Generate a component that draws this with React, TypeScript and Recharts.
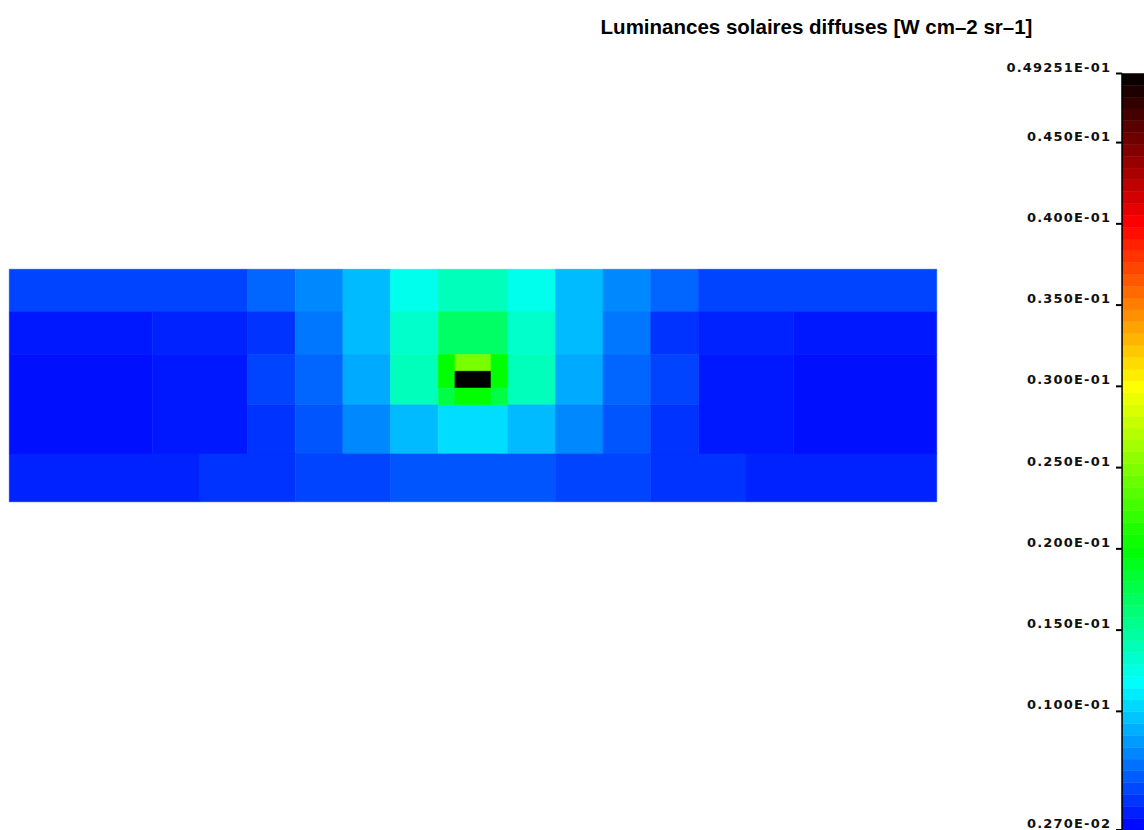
import { ComposedChart, XAxis, YAxis, ReferenceArea } from "recharts";

// diffuse sky radiance map, azimuth (deg) x elevation (deg), values in W cm-2 sr-1
// each row: [azimuth from, azimuth to, value]
const rowTop: [number, number, number][] = [
  [-180, -87.5, 0.0051],
  [-87.5, -69, 0.0063],
  [-69, -50.5, 0.0075],
  [-50.5, -32, 0.0093],
  [-32, -13.5, 0.0123],
  [-13.5, 13.5, 0.0139],
  [13.5, 32, 0.0123],
  [32, 50.5, 0.0093],
  [50.5, 69, 0.0075],
  [69, 87.5, 0.0063],
  [87.5, 180, 0.0051],
];

const rowUpper: [number, number, number][] = [
  [-180, -124.5, 0.00355],
  [-124.5, -87.5, 0.0039],
  [-87.5, -69, 0.0045],
  [-69, -50.5, 0.0069],
  [-50.5, -32, 0.0093],
  [-32, -13.5, 0.0134],
  [-13.5, 13.5, 0.0167],
  [13.5, 32, 0.0134],
  [32, 50.5, 0.0093],
  [50.5, 69, 0.0069],
  [69, 87.5, 0.0045],
  [87.5, 124.5, 0.0039],
  [124.5, 180, 0.00355],
];

// tall cells at both sides, covering the middle and lower rows
const rowSides: [number, number, number][] = [
  [-180, -124.5, 0.00326],
  [-124.5, -87.5, 0.00355],
  [87.5, 124.5, 0.00355],
  [124.5, 180, 0.00326],
];

const rowMiddle: [number, number, number][] = [
  [-87.5, -69, 0.0051],
  [-69, -50.5, 0.0063],
  [-50.5, -32, 0.0087],
  [-32, -13.5, 0.0139],
  [13.5, 32, 0.0139],
  [32, 50.5, 0.0087],
  [50.5, 69, 0.0063],
  [69, 87.5, 0.0051],
];

const rowLower: [number, number, number][] = [
  [-87.5, -69, 0.0045],
  [-69, -50.5, 0.0057],
  [-50.5, -32, 0.0075],
  [-32, -13.5, 0.0093],
  [-13.5, 13.5, 0.0105],
  [13.5, 32, 0.0093],
  [32, 50.5, 0.0075],
  [50.5, 69, 0.0057],
  [69, 87.5, 0.0045],
];

const rowBottom: [number, number, number][] = [
  [-180, -106, 0.0039],
  [-106, -69, 0.0045],
  [-69, -32, 0.0051],
  [-32, 32, 0.0057],
  [32, 69, 0.0051],
  [69, 106, 0.0045],
  [106, 180, 0.0039],
];

// finer cells around the sun: [az from, az to, el from, el to, value]
const sunCells: [number, number, number, number, number][] = [
  [-13.5, -7, -1, 12, 0.02],
  [-13.5, -7, -7.5, -1, 0.0178],
  [-7, 7, 5.5, 12, 0.0247],
  [-7, 7, -1, 5.5, 0.049251],
  [-7, 7, -7.5, -1, 0.02],
  [7, 13.5, -1, 12, 0.02],
  [7, 13.5, -7.5, -1, 0.0178],
];

const colorbarTicks = [0.0027, 0.01, 0.015, 0.02, 0.025, 0.03, 0.035, 0.04, 0.045, 0.049251];
const colorbarLabels = [
  "0.270E-02",
  "0.100E-01",
  "0.150E-01",
  "0.200E-01",
  "0.250E-01",
  "0.300E-01",
  "0.350E-01",
  "0.400E-01",
  "0.450E-01",
  "0.49251E-01",
];

const VMIN = 0.0027;
const VMAX = 0.049251;

const colorStops: [number, number[]][] = [
  [0.0027, [0, 0, 255]],
  [0.0117, [0, 255, 255]],
  [0.02, [0, 255, 0]],
  [0.03, [255, 255, 0]],
  [0.04, [255, 0, 0]],
  [0.049251, [0, 0, 0]],
];

function colorFor(v: number) {
  for (let i = 0; i < colorStops.length - 1; i++) {
    const [a, ca] = colorStops[i];
    const [b, cb] = colorStops[i + 1];
    if (v <= b || i === colorStops.length - 2) {
      const t = Math.max(0, Math.min(1, (v - a) / (b - a)));
      const c = ca.map((x, k) => Math.round(x + (cb[k] - x) * t));
      return `rgb(${c[0]},${c[1]},${c[2]})`;
    }
  }
  return "#000";
}

type Cell = { az0: number; az1: number; el0: number; el1: number; value: number };

const rowCells = (row: [number, number, number][], el0: number, el1: number): Cell[] =>
  row.map(([az0, az1, value]) => ({ az0, az1, el0, el1, value }));

const cells: Cell[] = [
  ...rowCells(rowTop, 28.5, 45),
  ...rowCells(rowUpper, 12, 28.5),
  ...rowCells(rowSides, -26.5, 12),
  ...rowCells(rowMiddle, -7.5, 12),
  ...rowCells(rowLower, -26.5, -7.5),
  ...rowCells(rowBottom, -45, -26.5),
  ...sunCells.map(([az0, az1, el0, el1, value]) => ({ az0, az1, el0, el1, value })),
];

const BANDS = 64;
const bands = Array.from({ length: BANDS }, (_, i) => {
  const lo = VMIN + ((VMAX - VMIN) * i) / BANDS;
  const hi = VMIN + ((VMAX - VMIN) * (i + 1)) / BANDS;
  return { lo, hi, color: colorFor((lo + hi) / 2) };
});

function BarTick(props: any) {
  const { x, y, payload } = props;
  const idx = colorbarTicks.indexOf(payload.value);
  return (
    <text
      x={x + 1.2}
      y={y - 2}
      textAnchor="end"
      fontFamily="'DejaVu Sans', sans-serif"
      fontWeight="bold"
      fontSize={13}
      letterSpacing={1.2}
      fill="#111"
    >
      {colorbarLabels[idx]}
    </text>
  );
}

export default function App() {
  return (
    <div
      style={{
        position: "absolute",
        left: 0,
        top: 0,
        width: 1144,
        height: 830,
        overflow: "hidden",
        background: "#fff",
      }}
    >
      <svg width={1144} height={50} style={{ position: "absolute", left: 0, top: 0 }}>
        <text
          x={816.5}
          y={33.5}
          textAnchor="middle"
          fontFamily="'Liberation Sans', Arial, sans-serif"
          fontWeight="bold"
          fontSize={20.5}
          fill="#000"
        >
          Luminances solaires diffuses [W cm–2 sr–1]
        </text>
      </svg>

      <div style={{ position: "absolute", left: 0, top: 0 }}>
        <ComposedChart
          width={945}
          height={830}
          margin={{ top: 269.3, right: 8.3, bottom: 328.3, left: 9.3 }}
        >
          <XAxis type="number" dataKey="az" domain={[-180, 180]} hide allowDataOverflow />
          <YAxis type="number" domain={[-45, 45]} hide allowDataOverflow />
          {cells.map((c, i) => (
            <ReferenceArea
              key={i}
              x1={c.az0}
              x2={c.az1}
              y1={c.el0}
              y2={c.el1}
              fill={colorFor(c.value)}
              fillOpacity={1}
              stroke={colorFor(c.value)}
              strokeWidth={0.6}
            />
          ))}
        </ComposedChart>
      </div>

      <div style={{ position: "absolute", left: 1000, top: 0 }}>
        <ComposedChart width={144} height={830} margin={{ top: 73.5, right: 0, bottom: 0, left: 0 }}>
          <XAxis type="number" dataKey="pos" domain={[0, 10]} hide allowDataOverflow />
          <YAxis
            type="number"
            dataKey="lum"
            domain={[VMIN, VMAX]}
            ticks={colorbarTicks}
            interval={0}
            width={122}
            tickSize={6}
            tickMargin={6}
            tick={BarTick}
            tickLine={{ stroke: "#000", strokeWidth: 2 }}
            axisLine={false}
            allowDataOverflow
          />
          {bands.map((b, i) => (
            <ReferenceArea
              key={i}
              x1={0}
              x2={10}
              y1={b.lo}
              y2={b.hi}
              fill={b.color}
              fillOpacity={1}
              stroke={b.color}
              strokeWidth={0.5}
              ifOverflow="extendDomain"
            />
          ))}
          <ReferenceArea
            x1={0}
            x2={0.05}
            y1={VMIN}
            y2={VMAX}
            fill="#000"
            fillOpacity={1}
            stroke="#000"
            strokeWidth={1}
            ifOverflow="extendDomain"
          />
        </ComposedChart>
      </div>
    </div>
  );
}
